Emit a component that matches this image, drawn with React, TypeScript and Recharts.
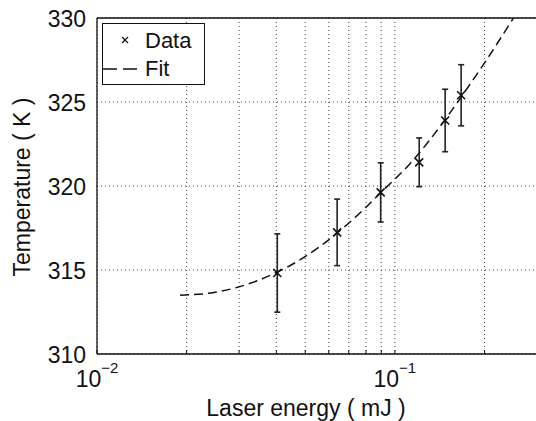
import React from 'react';
import {
  ComposedChart,
  Line,
  Scatter,
  ErrorBar,
  XAxis,
  YAxis,
  CartesianGrid,
  ReferenceLine
} from 'recharts';

// measured points (laser energy in mJ, temperature in K, error half-width)
const energy = [0.0403, 0.064, 0.0896, 0.1207, 0.1475, 0.1669];
const temperature = [314.82, 317.24, 319.62, 321.41, 323.9, 325.4];
const tempError = [2.33, 1.98, 1.76, 1.45, 1.86, 1.82];

// fit curve
const fitEnergy = [0.019, 0.0245, 0.03, 0.035, 0.04, 0.048, 0.064, 0.078, 0.089, 0.112, 0.1475, 0.167, 0.203, 0.25];
const fitTemp = [313.5, 313.65, 314.0, 314.4, 314.85, 315.6, 317.2, 318.55, 319.55, 321.3, 323.95, 325.3, 327.5, 330.0];

const xTicks = [0.01, 0.02, 0.03, 0.04, 0.05, 0.06, 0.07, 0.08, 0.09, 0.1, 0.2, 0.3];
const decadeLabels: Record<string, string> = { '0.01': '\u22122', '0.1': '\u22121' };
const yTicks = [310, 315, 320, 325, 330];

const FONT = '"Liberation Sans", Arial, Helvetica, sans-serif';
const INK = '#111';

const dataPoints = energy.map((e, i) => ({ x: e, y: temperature[i], err: tempError[i] }));
const fitPoints = fitEnergy.map((e, i) => ({ x: e, y: fitTemp[i] }));

const EnergyTick = (props: any) => {
  const { x, y, payload } = props;
  const exp = decadeLabels[String(payload.value)];
  return (
    <g>
      <line x1={x} y1={y} x2={x} y2={y - 4} stroke={INK} strokeWidth={1} />
      {exp && (
        <text x={x} y={y + 33} textAnchor="middle" fontSize={23} fontFamily={FONT} fill={INK}>
          10
          <tspan dy={-14} fontSize={15}>{exp}</tspan>
        </text>
      )}
    </g>
  );
};

const TempTick = (props: any) => {
  const { x, y, payload } = props;
  return (
    <text x={x - 11} y={y + 8.5} textAnchor="end" fontSize={23} fontFamily={FONT} fill={INK}>
      {payload.value}
    </text>
  );
};

const XMarker = (props: any) => {
  const { cx, cy } = props;
  const s = 4;
  return (
    <g stroke={INK} strokeWidth={1.6}>
      <line x1={cx - s} y1={cy - s} x2={cx + s} y2={cy + s} />
      <line x1={cx - s} y1={cy + s} x2={cx + s} y2={cy - s} />
    </g>
  );
};

// legend drawn by hand, MATLAB style box in the top-left corner
const LegendBox = ({ left, top }: { left: number; top: number }) => (
  <g transform={`translate(${left}, ${top})`}>
    <rect x={0.5} y={0.5} width={102} height={61} fill="#fff" stroke={INK} strokeWidth={1} />
    <g stroke={INK} strokeWidth={1.2}>
      <line x1={20} y1={14} x2={26} y2={20} />
      <line x1={20} y1={20} x2={26} y2={14} />
    </g>
    <text x={43} y={24.5} fontSize={22} fontFamily={FONT} fill={INK}>Data</text>
    <line x1={1} y1={46} x2={36} y2={46} stroke={INK} strokeWidth={1.5} strokeDasharray="14 6" />
    <text x={43} y={52.5} fontSize={22} fontFamily={FONT} fill={INK}>Fit</text>
  </g>
);

export default function App() {
  return (
    <div style={{ position: 'absolute', left: 0, top: 0, width: 536, height: 421, overflow: 'hidden', background: '#fff' }}>
      <ComposedChart width={540} height={421} margin={{ top: 18, right: 3, bottom: 0, left: 0 }}>
        <CartesianGrid stroke="#444" strokeDasharray="1 3" strokeWidth={1} />
        <XAxis
          dataKey="x"
          type="number"
          scale="log"
          domain={[0.01, 0.3]}
          allowDataOverflow
          ticks={xTicks}
          interval={0}
          tick={<EnergyTick />}
          tickLine={false}
          tickSize={0}
          tickMargin={0}
          height={67}
          axisLine={{ stroke: INK, strokeWidth: 1.3 }}
        />
        <YAxis
          dataKey="y"
          type="number"
          domain={[310, 330]}
          allowDataOverflow
          ticks={yTicks}
          interval={0}
          tick={<TempTick />}
          tickLine={false}
          tickSize={0}
          tickMargin={0}
          width={97}
          axisLine={{ stroke: INK, strokeWidth: 1.3 }}
        />
        <ReferenceLine y={330} stroke={INK} strokeWidth={1.3} />
        <Line
          data={fitPoints}
          dataKey="y"
          type="monotone"
          stroke={INK}
          strokeWidth={1.5}
          strokeDasharray="9 5"
          dot={false}
          activeDot={false}
          isAnimationActive={false}
        />
        <Scatter data={dataPoints} dataKey="y" shape={<XMarker />} isAnimationActive={false}>
          <ErrorBar dataKey="err" direction="y" width={3} stroke="#222" strokeWidth={1.6} isAnimationActive={false} />
        </Scatter>
      </ComposedChart>
      <svg width={536} height={421} style={{ position: 'absolute', left: 0, top: 0, pointerEvents: 'none' }}>
        <LegendBox left={102} top={23} />
        <text x={30} y={187} transform="rotate(-90, 30, 187)" textAnchor="middle" fontSize={23} fontFamily={FONT} fill={INK}>
          Temperature ( K )
        </text>
        <text x={306} y={416} textAnchor="middle" fontSize={23} fontFamily={FONT} fill={INK}>
          Laser energy ( mJ )
        </text>
      </svg>
    </div>
  );
}
